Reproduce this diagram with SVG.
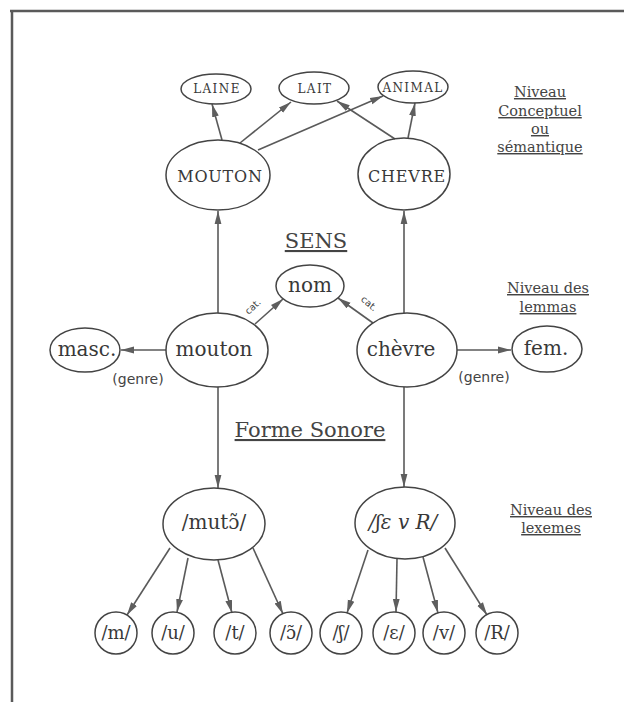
<svg xmlns="http://www.w3.org/2000/svg" width="624" height="702" viewBox="0 0 624 702">
<style>
.n ellipse, .n circle { fill: none; stroke: #444; stroke-width: 1.5; }
.t { font-family: "DejaVu Serif", "Liberation Serif", serif; fill: #383838; text-anchor: middle; }
.caps { font-size: 12px; letter-spacing: 1.4px; }
.big { font-size: 16px; letter-spacing: 0.8px; }
.lem { font-size: 20px; }
.ph { font-size: 18px; }
.lvl { font-family: "DejaVu Serif", "Liberation Serif", serif; font-size: 14.5px; fill: #444; text-anchor: middle; text-decoration: underline; }
.head { font-family: "DejaVu Serif", "Liberation Serif", serif; font-size: 21px; fill: #444; text-anchor: middle; text-decoration: underline; }
.lab { font-family: "DejaVu Sans", "Liberation Sans", sans-serif; font-size: 14px; fill: #444; text-anchor: middle; }
.cat { font-family: "DejaVu Sans", "Liberation Sans", sans-serif; font-size: 9.5px; fill: #444; text-anchor: middle; }
#edges line { stroke: #5a5a5a; stroke-width: 1.6; marker-end: url(#ah); }
</style>
<defs>
<marker id="ah" viewBox="0 0 13 8" refX="13" refY="4" markerWidth="13" markerHeight="8" markerUnits="userSpaceOnUse" orient="auto">
<path d="M0,0.6 L13,4 L0,7.4 Z" fill="#5e5e5e"/>
</marker>
</defs>
<rect width="624" height="702" fill="#ffffff"/>
<g id="frame" stroke="#5a5a5a" stroke-width="2.5" fill="none">
<line x1="12" y1="11" x2="12" y2="702"/>
<line x1="10" y1="11" x2="624" y2="11"/>
</g>

<g id="edges">
<line x1="222" y1="140" x2="212" y2="104"/>
<line x1="240" y1="143" x2="291" y2="102"/>
<line x1="258" y1="150" x2="383" y2="96"/>
<line x1="395" y1="139" x2="337" y2="101"/>
<line x1="408" y1="138" x2="415" y2="103"/>
<line x1="218" y1="313" x2="218" y2="211"/>
<line x1="404" y1="313" x2="404" y2="211"/>
<line x1="255" y1="324" x2="283" y2="299"/>
<line x1="373" y1="323" x2="338" y2="298"/>
<line x1="166" y1="350" x2="121" y2="350"/>
<line x1="457" y1="350" x2="511" y2="350"/>
<line x1="218" y1="387" x2="218" y2="488"/>
<line x1="404" y1="387" x2="404" y2="487"/>
<line x1="170" y1="548" x2="127" y2="615"/>
<line x1="188" y1="558" x2="177" y2="612"/>
<line x1="218" y1="560" x2="232" y2="613"/>
<line x1="253" y1="548" x2="283" y2="614"/>
<line x1="368" y1="550" x2="347" y2="613"/>
<line x1="397" y1="559" x2="396" y2="612"/>
<line x1="423" y1="557" x2="438" y2="613"/>
<line x1="445" y1="548" x2="487" y2="615"/>
</g>

<g id="edge-labels">
<text class="cat" transform="translate(255,309) rotate(-42)">cat.</text>
<text class="cat" transform="translate(367,306) rotate(40)">cat.</text>
<text class="lab" x="138" y="384">(genre)</text>
<text class="lab" x="484" y="382">(genre)</text>
</g>

<g id="laine" class="n"><ellipse cx="216" cy="89" rx="35" ry="15"/><text class="t caps" x="217" y="93">LAINE</text></g>
<g id="lait" class="n"><ellipse cx="314" cy="88" rx="35" ry="16"/><text class="t caps" x="315" y="93">LAIT</text></g>
<g id="animal" class="n"><ellipse cx="413" cy="87" rx="35" ry="16"/><text class="t caps" x="413" y="92">ANIMAL</text></g>
<g id="MOUTON" class="n"><ellipse cx="218" cy="175" rx="52" ry="35"/><text class="t big" x="220" y="182">MOUTON</text></g>
<g id="CHEVRE" class="n"><ellipse cx="404" cy="174" rx="46" ry="36"/><text class="t big" x="407" y="182">CHEVRE</text></g>
<g id="nom" class="n"><ellipse cx="310" cy="286" rx="34" ry="21"/><text class="t lem" x="310" y="292">nom</text></g>
<g id="mouton" class="n"><ellipse cx="217" cy="350" rx="51" ry="37"/><text class="t lem" x="214" y="356">mouton</text></g>
<g id="chevre" class="n"><ellipse cx="407" cy="350" rx="50" ry="37"/><text class="t lem" x="401" y="356">chèvre</text></g>
<g id="masc" class="n"><ellipse cx="85" cy="350" rx="35" ry="22"/><text class="t lem" x="87" y="356">masc.</text></g>
<g id="fem" class="n"><ellipse cx="547" cy="349" rx="35" ry="23"/><text class="t lem" x="546" y="355">fem.</text></g>
<g id="muto" class="n"><ellipse cx="214" cy="524" rx="51" ry="36"/><text class="t lem" x="214" y="529">/mutɔ̃/</text></g>
<g id="chevR" class="n"><ellipse cx="405" cy="523" rx="50" ry="36"/><text class="t lem" x="403" y="529" font-style="italic" font-size="19">/ʃɛ v R/</text></g>

<g id="ph-m" class="n"><circle cx="116" cy="633" r="21"/><text class="t ph" x="116" y="639">/m/</text></g>
<g id="ph-u" class="n"><circle cx="173" cy="633" r="21"/><text class="t ph" x="173" y="639">/u/</text></g>
<g id="ph-t" class="n"><circle cx="235" cy="633" r="21"/><text class="t ph" x="235" y="639">/t/</text></g>
<g id="ph-o" class="n"><circle cx="291" cy="633" r="21"/><text class="t ph" x="291" y="639">/ɔ̃/</text></g>
<g id="ph-sh" class="n"><circle cx="341" cy="633" r="21"/><text class="t ph" x="341" y="639">/ʃ/</text></g>
<g id="ph-e" class="n"><circle cx="394" cy="633" r="21"/><text class="t ph" x="394" y="639">/ɛ/</text></g>
<g id="ph-v" class="n"><circle cx="444" cy="633" r="21"/><text class="t ph" x="444" y="639">/v/</text></g>
<g id="ph-R" class="n"><circle cx="497" cy="633" r="21"/><text class="t ph" x="497" y="639">/R/</text></g>

<g id="headings">
<text class="head" x="316" y="248">SENS</text>
<text class="head" x="310" y="437">Forme Sonore</text>
</g>
<g id="levels">
<text class="lvl" x="540" y="97">Niveau</text>
<text class="lvl" x="540" y="116">Conceptuel</text>
<text class="lvl" x="540" y="134">ou</text>
<text class="lvl" x="540" y="152">sémantique</text>
<text class="lvl" x="548" y="293">Niveau des</text>
<text class="lvl" x="548" y="312">lemmas</text>
<text class="lvl" x="551" y="515">Niveau des</text>
<text class="lvl" x="551" y="533">lexemes</text>
</g>
</svg>
